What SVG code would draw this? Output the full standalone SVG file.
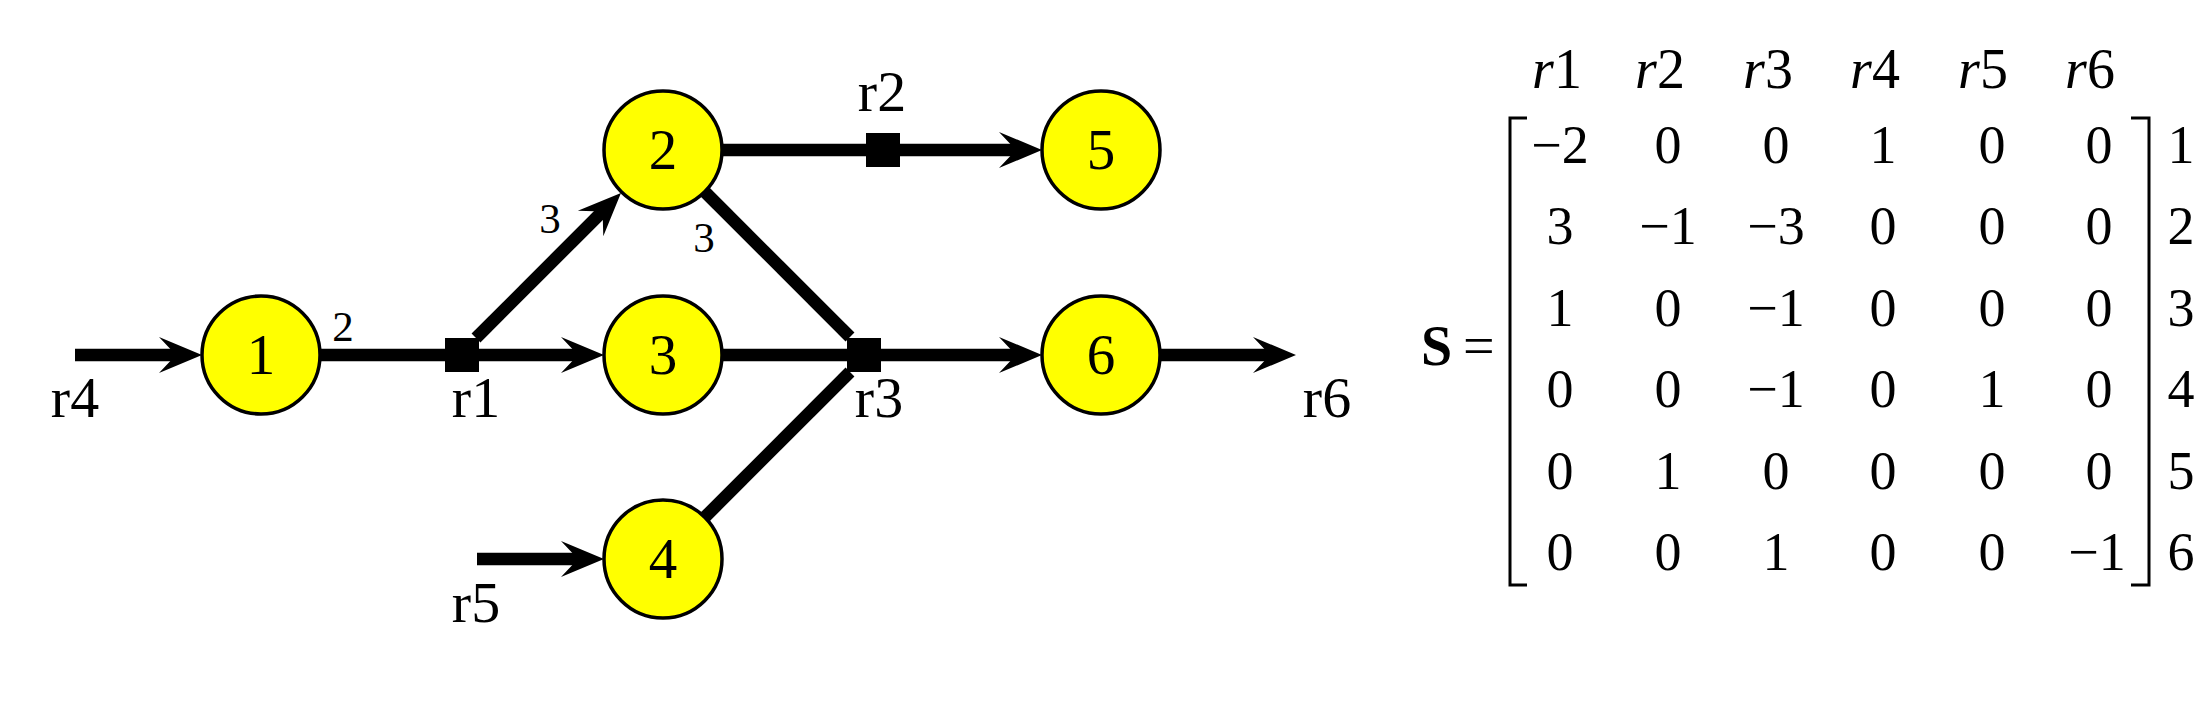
<svg xmlns="http://www.w3.org/2000/svg" width="2198" height="710" viewBox="0 0 2198 710">
<style>
  text { font-family: "Liberation Serif", "Times New Roman", serif; fill: #000; }
  .node circle { fill: #FFFF00; stroke: #000; stroke-width: 3.5; }
  .nl { font-size: 57px; text-anchor: middle; }
  .rl { font-size: 58px; text-anchor: middle; }
  .sl { font-size: 43px; text-anchor: middle; }
  .edge { stroke: #000; stroke-width: 12.5; fill: none; }
  .arr { marker-end: url(#ah); }
  .rx { fill: #000; }
  .m { font-size: 54px; text-anchor: middle; }
  .h { font-size: 56px; text-anchor: middle; }
  .br { fill: none; stroke: #000; stroke-width: 3; }
</style>
<defs>
  <marker id="ah" markerUnits="userSpaceOnUse" markerWidth="50" markerHeight="40" viewBox="-22 -20 50 40" refX="0" refY="0" orient="auto">
    <path d="M24,0 L-19,-18 L-2,0 L-19,18 Z" fill="#000"/>
  </marker>
</defs>
<rect width="2198" height="710" fill="#fff"/>

<g id="connectors">
  <line class="edge arr" x1="75" y1="355" x2="178" y2="355"/>
  <line class="edge" x1="318" y1="355" x2="462" y2="355"/>
  <line class="edge arr" x1="462" y1="355" x2="580" y2="355"/>
  <line class="edge arr" x1="476" y1="338" x2="604" y2="210"/>
  <line class="edge arr" x1="720" y1="150" x2="1018" y2="150"/>
  <line class="edge" x1="705" y1="192" x2="850" y2="337"/>
  <line class="edge arr" x1="720" y1="355" x2="1018" y2="355"/>
  <line class="edge" x1="705" y1="517" x2="850" y2="372"/>
  <line class="edge arr" x1="477" y1="559" x2="580" y2="559"/>
  <line class="edge arr" x1="1158" y1="355" x2="1272" y2="355"/>
  <text class="sl" x="343" y="341">2</text>
  <text class="sl" x="550" y="233">3</text>
  <text class="sl" x="704" y="252">3</text>
  <text class="rl" x="75" y="417">r4</text>
  <text class="rl" x="476" y="622">r5</text>
  <text class="rl" x="1327" y="417">r6</text>
</g>

<g id="r1">
  <rect class="rx" x="445" y="338" width="34" height="34"/>
  <text class="rl" x="476" y="417">r1</text>
</g>
<g id="r2">
  <rect class="rx" x="866" y="133" width="34" height="34"/>
  <text class="rl" x="882" y="111">r2</text>
</g>
<g id="r3">
  <rect class="rx" x="847" y="338" width="34" height="34"/>
  <text class="rl" x="879" y="417">r3</text>
</g>

<g id="node1" class="node"><circle cx="261" cy="355" r="59"/><text class="nl" x="261" y="374">1</text></g>
<g id="node2" class="node"><circle cx="663" cy="150" r="59"/><text class="nl" x="663" y="169">2</text></g>
<g id="node3" class="node"><circle cx="663" cy="355" r="59"/><text class="nl" x="663" y="374">3</text></g>
<g id="node4" class="node"><circle cx="663" cy="559" r="59"/><text class="nl" x="663" y="578">4</text></g>
<g id="node5" class="node"><circle cx="1101" cy="150" r="59"/><text class="nl" x="1101" y="169">5</text></g>
<g id="node6" class="node"><circle cx="1101" cy="355" r="59"/><text class="nl" x="1101" y="374">6</text></g>

<g id="matrix">
  <text x="1421" y="365" font-size="56" font-weight="bold">S</text>
  <text x="1463" y="365" font-size="56">=</text>
  <path class="br" d="M1527,118 H1510 V585 H1527"/>
  <path class="br" d="M2131,118 H2149 V585 H2131"/>
  <g class="h">
    <text x="1557" y="88"><tspan font-style="italic">r</tspan>1</text>
    <text x="1660" y="88"><tspan font-style="italic">r</tspan>2</text>
    <text x="1768" y="88"><tspan font-style="italic">r</tspan>3</text>
    <text x="1875" y="88"><tspan font-style="italic">r</tspan>4</text>
    <text x="1983" y="88"><tspan font-style="italic">r</tspan>5</text>
    <text x="2090" y="88"><tspan font-style="italic">r</tspan>6</text>
  </g>
  <g class="m">
    <text x="1560" y="163">−2</text><text x="1668" y="163">0</text><text x="1776" y="163">0</text><text x="1883" y="163">1</text><text x="1992" y="163">0</text><text x="2099" y="163">0</text>
    <text x="1560" y="244">3</text><text x="1668" y="244">−1</text><text x="1776" y="244">−3</text><text x="1883" y="244">0</text><text x="1992" y="244">0</text><text x="2099" y="244">0</text>
    <text x="1560" y="326">1</text><text x="1668" y="326">0</text><text x="1776" y="326">−1</text><text x="1883" y="326">0</text><text x="1992" y="326">0</text><text x="2099" y="326">0</text>
    <text x="1560" y="407">0</text><text x="1668" y="407">0</text><text x="1776" y="407">−1</text><text x="1883" y="407">0</text><text x="1992" y="407">1</text><text x="2099" y="407">0</text>
    <text x="1560" y="489">0</text><text x="1668" y="489">1</text><text x="1776" y="489">0</text><text x="1883" y="489">0</text><text x="1992" y="489">0</text><text x="2099" y="489">0</text>
    <text x="1560" y="570">0</text><text x="1668" y="570">0</text><text x="1776" y="570">1</text><text x="1883" y="570">0</text><text x="1992" y="570">0</text><text x="2097" y="570">−1</text>
    <text x="2181" y="163">1</text>
    <text x="2181" y="244">2</text>
    <text x="2181" y="326">3</text>
    <text x="2181" y="407">4</text>
    <text x="2181" y="489">5</text>
    <text x="2181" y="570">6</text>
  </g>
</g>
</svg>
